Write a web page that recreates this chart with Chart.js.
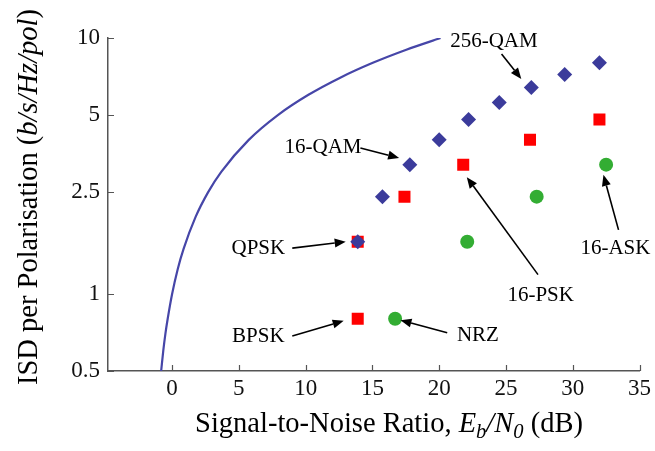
<!DOCTYPE html>
<html>
<head>
<meta charset="utf-8">
<script src="https://cdn.jsdelivr.net/npm/chart.js@4/dist/chart.umd.min.js"></script>
<style>
html,body{margin:0;padding:0;background:#fff;}
#wrap{width:655px;height:451px;position:relative;}
</style>
</head>
<body>
<div id="wrap"><canvas id="c" width="655" height="451"></canvas></div>
<script>
// ---- data ----
const xTicks = [0, 5, 10, 15, 20, 25, 30, 35];
const yTicks = [0.5, 1, 2.5, 5, 10];

// Shannon limit curve (Eb/N0 dB, ISD)
const shannonX = [-0.82, -0.66, -0.50, -0.33, 0, 0.42, 0.86, 1.76, 2.70, 3.68, 5.74, 7.92, 10.21, 12.59, 15.03, 17.54, 20.10];
const shannonY = [0.5, 0.6, 0.7, 0.8, 1, 1.25, 1.5, 2, 2.5, 3, 4, 5, 6, 7, 8, 9, 10];

// QAM family (blue diamonds)
const qamX = [13.9, 15.75, 17.8, 20.0, 22.2, 24.5, 26.9, 29.4, 32.0];
const qamY = [1.6, 2.4, 3.2, 4.0, 4.8, 5.6, 6.4, 7.2, 8.0];

// PSK family (red squares)
const pskX = [13.9, 13.9, 17.4, 21.8, 26.8, 32.0];
const pskY = [0.8, 1.6, 2.4, 3.2, 4.0, 4.8];

// ASK family (green circles)
const askX = [16.7, 22.1, 27.3, 32.5];
const askY = [0.8, 1.6, 2.4, 3.2];

const labelTexts = ['256-QAM', '16-QAM', 'QPSK', 'BPSK', 'NRZ', '16-PSK', '16-ASK'];

const toPts = (xs, ys) => xs.map((x, i) => ({x: x, y: ys[i]}));

// annotation layout (data coordinates): text centre, arrow tail, arrow head
const annLayout = [
  {t: [24.1, 9.65], a: [24.67, 8.66], b: [26.15, 6.92]},
  {t: [11.3, 3.75], a: [14.1, 3.72], b: [17.0, 3.40]},
  {t: [6.46, 1.50], a: [9.0, 1.51], b: [13.0, 1.60]},
  {t: [6.46, 0.68], a: [9.0, 0.685], b: [12.85, 0.785]},
  {t: [22.9, 0.69], a: [20.6, 0.705], b: [17.1, 0.79]},
  {t: [27.6, 0.99], a: [27.4, 1.19], b: [22.07, 2.86]},
  {t: [33.2, 1.51], a: [33.43, 1.78], b: [32.3, 2.92]}
];

const SERIF = '"Liberation Serif", "Times New Roman", serif';

function drawRich(ctx, segs, size) {
  let x = 0;
  for (const s of segs) {
    const fs = s.sub ? size * 0.72 : size;
    ctx.font = (s.italic ? 'italic ' : '') + fs + 'px ' + SERIF;
    ctx.fillText(s.text, x, s.sub ? size * 0.22 : 0);
    x += ctx.measureText(s.text).width;
  }
  return x;
}
function richWidth(ctx, segs, size) {
  let w = 0;
  for (const s of segs) {
    const fs = s.sub ? size * 0.72 : size;
    ctx.font = (s.italic ? 'italic ' : '') + fs + 'px ' + SERIF;
    w += ctx.measureText(s.text).width;
  }
  return w;
}

const xTitle = [
  {text: 'Signal-to-Noise Ratio, '}, {text: 'E', italic: true}, {text: 'b', italic: true, sub: true},
  {text: '/', italic: true}, {text: 'N', italic: true}, {text: '0', italic: true, sub: true}, {text: ' (dB)'}
];
const yTitle = [
  {text: 'ISD per Polarisation ('}, {text: 'b/s/Hz/pol', italic: true}, {text: ')'}
];

const decor = {
  id: 'decor',
  afterDraw(chart) {
    const ctx = chart.ctx;
    const xs = chart.scales.x, ys = chart.scales.y;
    const ca = chart.chartArea;
    ctx.save();
    // inward ticks
    ctx.strokeStyle = '#555';
    ctx.lineWidth = 1.2;
    ctx.beginPath();
    xTicks.forEach(v => {
      const p = Math.round(xs.getPixelForValue(v)) + 0.5;
      ctx.moveTo(p, ca.bottom); ctx.lineTo(p, ca.bottom - 6);
    });
    yTicks.forEach(v => {
      const p = Math.round(ys.getPixelForValue(v)) + 0.5;
      ctx.moveTo(ca.left, p); ctx.lineTo(ca.left + 6, p);
    });
    ctx.stroke();

    // annotations
    ctx.fillStyle = '#000';
    ctx.strokeStyle = '#000';
    ctx.textAlign = 'center';
    ctx.textBaseline = 'middle';
    ctx.font = '21px ' + SERIF;
    annLayout.forEach((L, i) => {
      const tx = xs.getPixelForValue(L.t[0]), ty = ys.getPixelForValue(L.t[1]);
      ctx.fillText(labelTexts[i], tx, ty);
      const ax = xs.getPixelForValue(L.a[0]), ay = ys.getPixelForValue(L.a[1]);
      const bx = xs.getPixelForValue(L.b[0]), by = ys.getPixelForValue(L.b[1]);
      const ang = Math.atan2(by - ay, bx - ax);
      const hl = 11, hw = 4.5;
      const baseX = bx - hl * Math.cos(ang), baseY = by - hl * Math.sin(ang);
      ctx.lineWidth = 1.6;
      ctx.beginPath();
      ctx.moveTo(ax, ay); ctx.lineTo(baseX, baseY);
      ctx.stroke();
      ctx.beginPath();
      ctx.moveTo(bx, by);
      ctx.lineTo(baseX + hw * Math.sin(ang), baseY - hw * Math.cos(ang));
      ctx.lineTo(baseX - hw * Math.sin(ang), baseY + hw * Math.cos(ang));
      ctx.closePath();
      ctx.fill();
    });

    // axis titles
    ctx.textAlign = 'left';
    ctx.textBaseline = 'alphabetic';
    ctx.fillStyle = '#000';
    const ts = 28.5;
    const wx = richWidth(ctx, xTitle, ts);
    ctx.save();
    ctx.translate(389 - wx / 2, 432);
    drawRich(ctx, xTitle, ts);
    ctx.restore();

    const wy = richWidth(ctx, yTitle, ts);
    ctx.save();
    ctx.translate(37, 197 + wy / 2);
    ctx.rotate(-Math.PI / 2);
    drawRich(ctx, yTitle, ts);
    ctx.restore();
    ctx.restore();
  }
};

new Chart(document.getElementById('c'), {
  type: 'scatter',
  data: {
    datasets: [
      {
        label: 'Shannon limit', type: 'line', data: toPts(shannonX, shannonY),
        borderColor: '#4646a8', borderWidth: 2.2, pointRadius: 0, fill: false,
        cubicInterpolationMode: 'monotone', showLine: true
      },
      {
        label: 'QAM', data: toPts(qamX, qamY), pointStyle: 'rectRot',
        pointRadius: 7.5, backgroundColor: '#3b3b9b', borderColor: '#3b3b9b', borderWidth: 0
      },
      {
        label: 'PSK', data: toPts(pskX, pskY), pointStyle: 'rect',
        pointRadius: 8.5, backgroundColor: '#ff0000', borderColor: '#ff0000', borderWidth: 0
      },
      {
        label: 'ASK', data: toPts(askX, askY), pointStyle: 'circle',
        pointRadius: 7, backgroundColor: '#33ad33', borderColor: '#33ad33', borderWidth: 0
      }
    ]
  },
  options: {
    responsive: false,
    animation: false,
    layout: {padding: {left: 0, right: 12, top: 38, bottom: 0}},
    plugins: {legend: {display: false}, tooltip: {enabled: false}},
    scales: {
      x: {
        type: 'linear', min: -4.8, max: 35,
        afterBuildTicks: s => { s.ticks = xTicks.map(v => ({value: v})); },
        afterFit: s => { s.height = 80; },
        grid: {display: true, drawOnChartArea: false, drawTicks: false},
        border: {display: true, color: '#555', width: 1.5},
        ticks: {
          padding: 4, color: '#111', maxRotation: 0, autoSkip: false,
          font: {family: SERIF, size: 23},
          callback: v => String(v)
        }
      },
      y: {
        type: 'logarithmic', min: 0.5, max: 10,
        afterBuildTicks: s => { s.ticks = yTicks.map(v => ({value: v})); },
        afterFit: s => { s.width = 108; },
        grid: {display: true, drawOnChartArea: false, drawTicks: false},
        border: {display: true, color: '#555', width: 1.5},
        ticks: {
          padding: 8, color: '#111', autoSkip: false,
          font: {family: SERIF, size: 23},
          callback: v => String(v)
        }
      }
    }
  },
  plugins: [decor]
});
</script>
</body>
</html>
